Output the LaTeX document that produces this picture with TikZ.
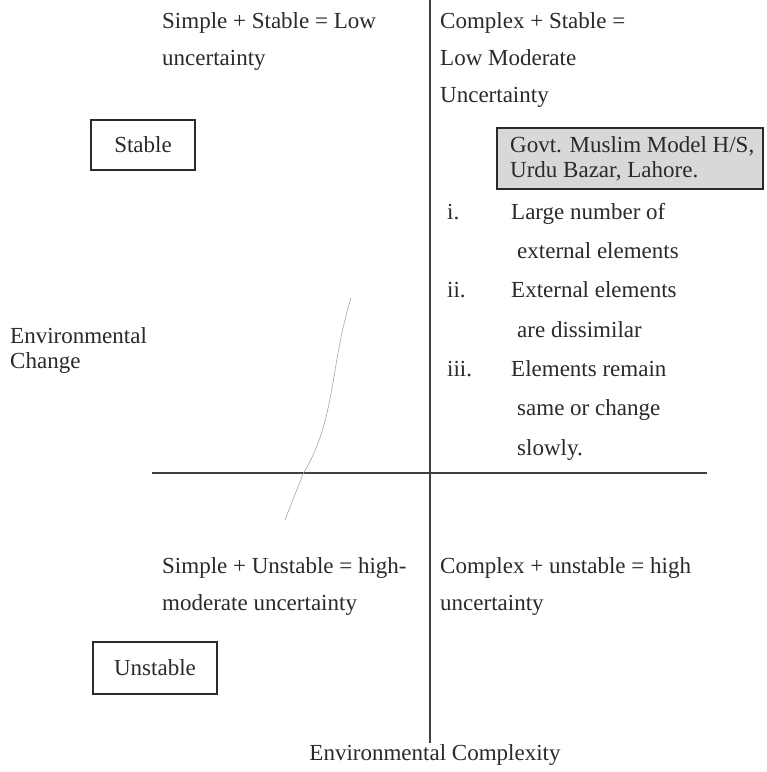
\documentclass[tikz,border=0pt]{standalone}
\usepackage{fontspec}
\setmainfont{Liberation Serif}
\definecolor{ink}{HTML}{2A2A2A}
\definecolor{rule}{HTML}{404040}
\definecolor{shade}{HTML}{D8D8D8}
\definecolor{pencilgray}{HTML}{A8A8A8}
\begin{document}
\begin{tikzpicture}[x=1pt,y=-1pt,
  txt/.style={anchor=base west, inner sep=0pt, text=ink, font=\fontsize{23}{28}\selectfont},
  boxed/.style={draw=ink, line width=1.2pt, fill=white, inner sep=0pt, text=ink,
    font=\fontsize{23}{28}\selectfont},
  shadebox/.style={draw=ink, line width=1.2pt, fill=shade, inner sep=0pt},
  axis/.style={draw=rule, line width=1.1pt},
  divider/.style={draw=rule, line width=1.6pt},
  pencil/.style={draw=pencilgray, line width=0.6pt}]
\useasboundingbox[fill=white] (0,0) rectangle (767,772);

% quadrant axes
\coordinate (vtop) at (430,0);
\coordinate (vbot) at (430,743);
\coordinate (hl) at (152,473);
\coordinate (hr) at (707,473);
\draw[axis] (vtop) -- (vbot);
\draw[divider] (hl) -- (hr);

% faint hand-drawn stroke
\coordinate (ps) at (351,298);
\coordinate (pe) at (285,520);
\draw[pencil] (ps) .. controls (330,365) and (336,420) .. (303,474) -- (pe);

% top-left quadrant
\node[txt] (sst1) at (162,28) {Simple + Stable = Low};
\node[txt] (sst2) at (162,65) {uncertainty};
\node[boxed, minimum width=104, minimum height=50] (stable) at (143,145) {Stable};

% top-right quadrant
\node[txt] (cst1) at (440,28) {Complex + Stable =};
\node[txt] (cst2) at (440,65) {Low Moderate};
\node[txt] (cst3) at (440,102) {Uncertainty};
\node[shadebox, minimum width=266, minimum height=61] (school) at (630,158.5) {};
\node[txt] (sch1) at (510,152) {Govt. Muslim Model H/S,};
\node[txt] (sch2) at (510,177) {Urdu Bazar, Lahore.};

\node[txt] (n1) at (447,219) {i.};
\node[txt] (l1a) at (511,219) {Large number of};
\node[txt] (l1b) at (517,258) {external elements};
\node[txt] (n2) at (447,297) {ii.};
\node[txt] (l2a) at (511,297) {External elements};
\node[txt] (l2b) at (517,337) {are dissimilar};
\node[txt] (n3) at (447,376) {iii.};
\node[txt] (l3a) at (511,376) {Elements remain};
\node[txt] (l3b) at (517,415) {same or change};
\node[txt] (l3c) at (517,455) {slowly.};

% vertical axis label
\node[txt] (ec1) at (10,343) {Environmental};
\node[txt] (ec2) at (10,368) {Change};

% bottom-left quadrant
\node[txt] (sun1) at (162,573) {Simple + Unstable = high-};
\node[txt] (sun2) at (162,610) {moderate uncertainty};
\node[boxed, minimum width=124, minimum height=52] (unstable) at (155,668) {Unstable};

% bottom-right quadrant
\node[txt] (cun1) at (440,573) {Complex + unstable = high};
\node[txt] (cun2) at (440,610) {uncertainty};

% horizontal axis label
\node[txt, anchor=base] (ecx) at (435,760) {Environmental Complexity};
\end{tikzpicture}
\end{document}
